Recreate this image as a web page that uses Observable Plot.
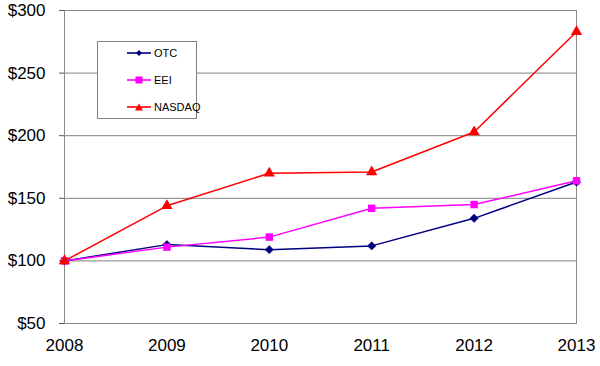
<!DOCTYPE html>
<html><head><meta charset="utf-8">
<script src="https://cdn.jsdelivr.net/npm/d3@7"></script>
<script src="https://cdn.jsdelivr.net/npm/@observablehq/plot@0.6"></script>
<style>
body{margin:0;background:#fff;font-family:"Liberation Sans",Arial,sans-serif;}
#wrap{position:relative;width:600px;height:366px;}
#legend{position:absolute;left:97px;top:41px;width:100px;height:78px;border:1px solid #808080;background:#fff;box-sizing:border-box;font-size:11px;}
.item{position:absolute;left:29px;display:flex;align-items:center;gap:3px;}
</style>
</head><body>
<div id="wrap"></div>
<script>
const years = [2008, 2009, 2010, 2011, 2012, 2013];
const otc = [100, 113, 109, 112, 134, 163];
const eei = [100, 111, 119, 142, 145, 164];
const nasdaq = [100, 144, 170, 171, 203, 283];
const yTicks = [50, 100, 150, 200, 250, 300];
const seriesNames = ["OTC", "EEI", "NASDAQ"];
const seriesColors = ["#000080", "#FF00FF", "#FF0000"];

const seriesValues = [otc, eei, nasdaq];
const data = [];
seriesNames.forEach((s, i) => years.forEach((y, j) => data.push({series: s, year: y, value: seriesValues[i][j]})));

const chart = Plot.plot({
  width: 600, height: 366,
  marginLeft: 64, marginRight: 24, marginTop: 10, marginBottom: 43,
  style: {fontFamily: '"Liberation Sans", Arial, sans-serif', fontSize: "17px", color: "#000", background: "#fff"},
  x: {domain: [2008, 2013], label: null},
  y: {domain: [50, 300], label: null},
  color: {domain: seriesNames, range: seriesColors},
  marks: [
    Plot.ruleY(yTicks.filter(d => d > 50), {stroke: "#808080", strokeOpacity: 1}),
    Plot.frame({stroke: "#8a8a8a", strokeOpacity: 1}),
    Plot.axisY({ticks: yTicks, tickFormat: d => "$" + d, tickSize: 5, tickPadding: 14, fontSize: 17, stroke: "#555", label: null}),
    Plot.axisX({ticks: years, tickFormat: d => String(d), tickSize: 0, tickPadding: 15, fontSize: 17, label: null}),
    Plot.line(data, {x: "year", y: "value", z: "series", stroke: "series", strokeWidth: 1.5}),
    Plot.dot(data.filter(d => d.series === "OTC"), {x: "year", y: "value", fill: "series", symbol: "diamond2", r: 3.8, stroke: "series", strokeWidth: 0.5}),
    Plot.dot(data.filter(d => d.series === "EEI"), {x: "year", y: "value", fill: "series", symbol: "square", r: 4.2, stroke: "none"}),
    Plot.dot(data.filter(d => d.series === "NASDAQ"), {x: "year", y: "value", fill: "series", symbol: "triangle", r: 4.2, stroke: "none"})
  ]
});
const wrap = document.getElementById("wrap");
wrap.appendChild(chart);

const legend = document.createElement("div");
legend.id = "legend";
const tops = [5, 32, 59];
const shapes = [
  '<path d="M12,1 L15,4 L12,7 L9,4Z" fill="#000080"/>',
  '<rect x="8.5" y="0.5" width="7" height="7" fill="#FF00FF"/>',
  '<path d="M12,0.5 L16,7.5 L8,7.5Z" fill="#FF0000"/>'
];
seriesNames.forEach((name, i) => {
  const it = document.createElement("div");
  it.className = "item";
  it.style.top = tops[i] + "px";
  it.innerHTML = `<svg width="24" height="8"><line x1="0" y1="4" x2="24" y2="4" stroke="${seriesColors[i]}" stroke-width="1.6"/>${shapes[i]}</svg><span>${name}</span>`;
  legend.appendChild(it);
});
wrap.appendChild(legend);
</script>
</body></html>
